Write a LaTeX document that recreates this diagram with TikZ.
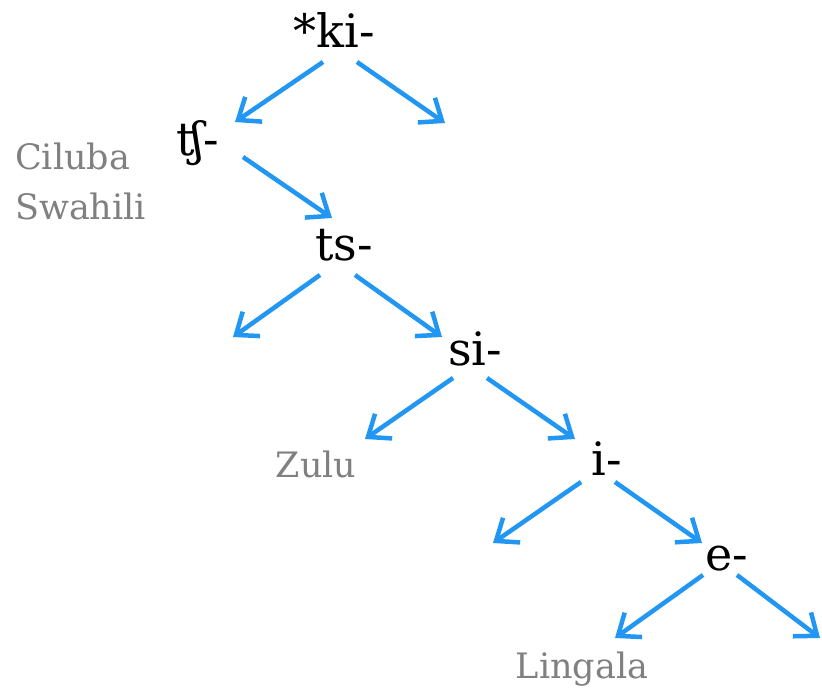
\documentclass[tikz,border=0pt]{standalone}
\usepackage{fontspec}
\setmainfont{DejaVu Serif}
\usetikzlibrary{arrows.meta}

\definecolor{branchblue}{RGB}{33,150,243}
\definecolor{langgray}{RGB}{128,128,128}

\tikzset{
    form/.style={anchor=base, inner sep=0pt, font=\fontsize{46}{50}\selectfont},
    lang/.style={anchor=base, inner sep=0pt, text=langgray, font=\fontsize{35}{40}\selectfont},
    branch/.style={line width=4.5pt, branchblue, -{Straight Barb[length=19pt,width=30pt,line width=4.5pt]}}
}

\begin{document}
\begin{tikzpicture}[x=1pt, y=-1pt]
\useasboundingbox (0,0) rectangle (822,691);

% Reflexes of the prefix
\node[form] (ki) at (334,47) {*ki-};
\node[form] (ch) at (198,155) {ʧ-};
\node[form] (ts) at (344,260) {ts-};
\node[form] (si) at (475,365) {si-};
\node[form] (i) at (607,475) {i-};
\node[form] (e) at (727,570) {e-};

% Languages
\node[lang, anchor=base west] (ciluba) at (15,169) {Ciluba};
\node[lang, anchor=base west] (swahili) at (15,219) {Swahili};
\node[lang] (zulu) at (316,477) {Zulu};
\node[lang] (lingala) at (582,678) {Lingala};

% Dangling branches
\coordinate (ki-r) at (445,123);
\coordinate (ts-l) at (233,337);
\coordinate (i-l) at (493,543);
\coordinate (e-r) at (820,638);

\draw[branch] ([shift={(-11,15)}]ki.base) -- ([shift={(37,-33)}]ch.base);
\draw[branch] ([shift={(23,15)}]ki.base) -- (ki-r);
\draw[branch] ([shift={(45,2)}]ch.base) -- ([shift={(-12,-42)}]ts.base);
\draw[branch] ([shift={(-24,15)}]ts.base) -- (ts-l);
\draw[branch] ([shift={(11,15)}]ts.base) -- ([shift={(-33,-28)}]si.base);
\draw[branch] ([shift={(-22,13)}]si.base) -- ([shift={(49,-38)}]zulu.base);
\draw[branch] ([shift={(12,13)}]si.base) -- ([shift={(-32,-36)}]i.base);
\draw[branch] ([shift={(-26,7)}]i.base) -- (i-l);
\draw[branch] ([shift={(8,7)}]i.base) -- ([shift={(-25,-27)}]e.base);
\draw[branch] ([shift={(-24,5)}]e.base) -- ([shift={(33,-40)}]lingala.base);
\draw[branch] ([shift={(10,5)}]e.base) -- (e-r);
\end{tikzpicture}
\end{document}
